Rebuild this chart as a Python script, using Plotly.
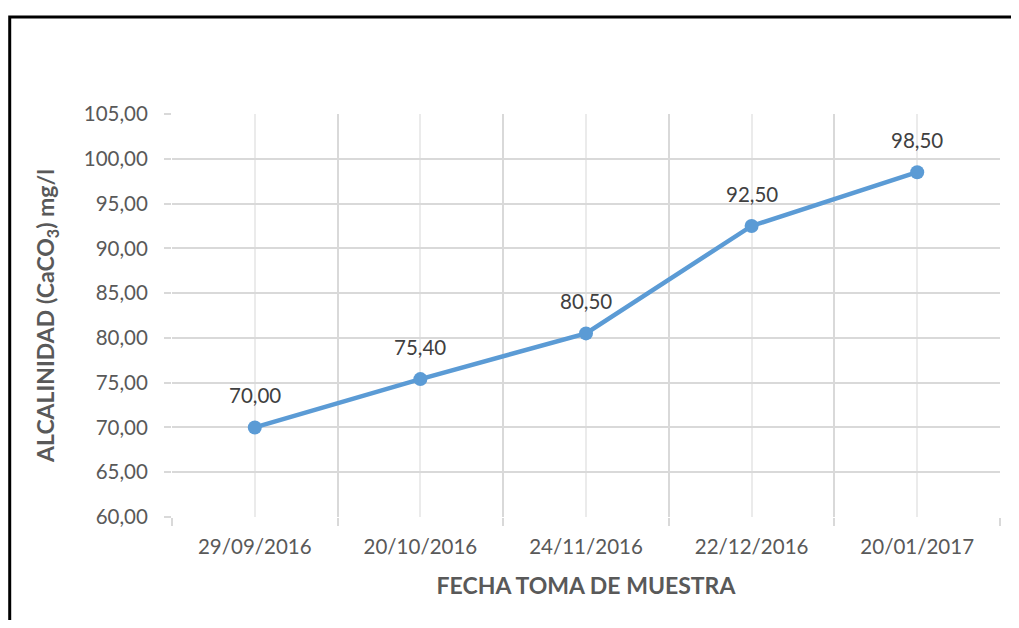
import plotly.graph_objects as go

# data
fechas = ["29/09/2016", "20/10/2016", "24/11/2016", "22/12/2016", "20/01/2017"]
alcalinidad = [70.00, 75.40, 80.50, 92.50, 98.50]
posiciones = list(range(len(fechas)))

font_fam = "Lato, Open Sans, sans-serif"

fig = go.Figure()

fig.add_trace(go.Scatter(
    x=posiciones,
    y=alcalinidad,
    mode="lines+markers",
    line=dict(color="#5B9BD5", width=4.5),
    marker=dict(color="#5B9BD5", size=14),
    cliponaxis=False,
    showlegend=False,
))

# data labels above each point
etiquetas = [dict(x=px, y=py, text="{:.2f}".format(py).replace(".", ","),
                  showarrow=False, yshift=32,
                  font=dict(family=font_fam, size=20.5, color="#404040"))
             for px, py in zip(posiciones, alcalinidad)]

fig.update_layout(
    width=1003, height=612,
    margin=dict(l=164, r=11, t=106, b=103),
    paper_bgcolor="white", plot_bgcolor="white",
    separators=",.",
    font=dict(family=font_fam, color="#595959"),
    annotations=etiquetas,
    xaxis=dict(
        range=[-0.5, 4.5],
        tickvals=posiciones, ticktext=fechas,
        tickfont=dict(size=20.5, color="#595959"),
        showgrid=True, gridcolor="#EBEBEB", gridwidth=1.5,
        ticks="", zeroline=False, showline=False,
        ticklabelstandoff=15,
        minor=dict(tick0=-0.5, dtick=1, showgrid=True, gridcolor="#D9D9D9",
                   gridwidth=1.5, ticks="outside", ticklen=8, tickcolor="#D9D9D9",
                   tickwidth=1.5),
        title=dict(text="<b>FECHA TOMA DE MUESTRA</b>", font=dict(size=23, color="#595959"),
                   standoff=21),
    ),
    yaxis=dict(
        range=[60, 105], dtick=5, tickformat=".2f",
        tickfont=dict(size=20.5, color="#595959"),
        showgrid=True, gridcolor="#D9D9D9", gridwidth=1.5,
        ticks="outside", ticklen=7, tickcolor="#D9D9D9", tickwidth=1.5,
        ticklabelstandoff=12,
        zeroline=False, showline=False,
        title=dict(text="<b>ALCALINIDAD (CaCO<sub>3</sub>) mg/l</b>",
                   font=dict(size=23, color="#595959"), standoff=22),
    ),
    shapes=[dict(type="rect", xref="paper", yref="paper",
                 x0=-0.196, x1=1.06, y0=-0.4, y1=1.241,
                 line=dict(color="black", width=3), layer="below")],
)

fig.write_html("out.html")
